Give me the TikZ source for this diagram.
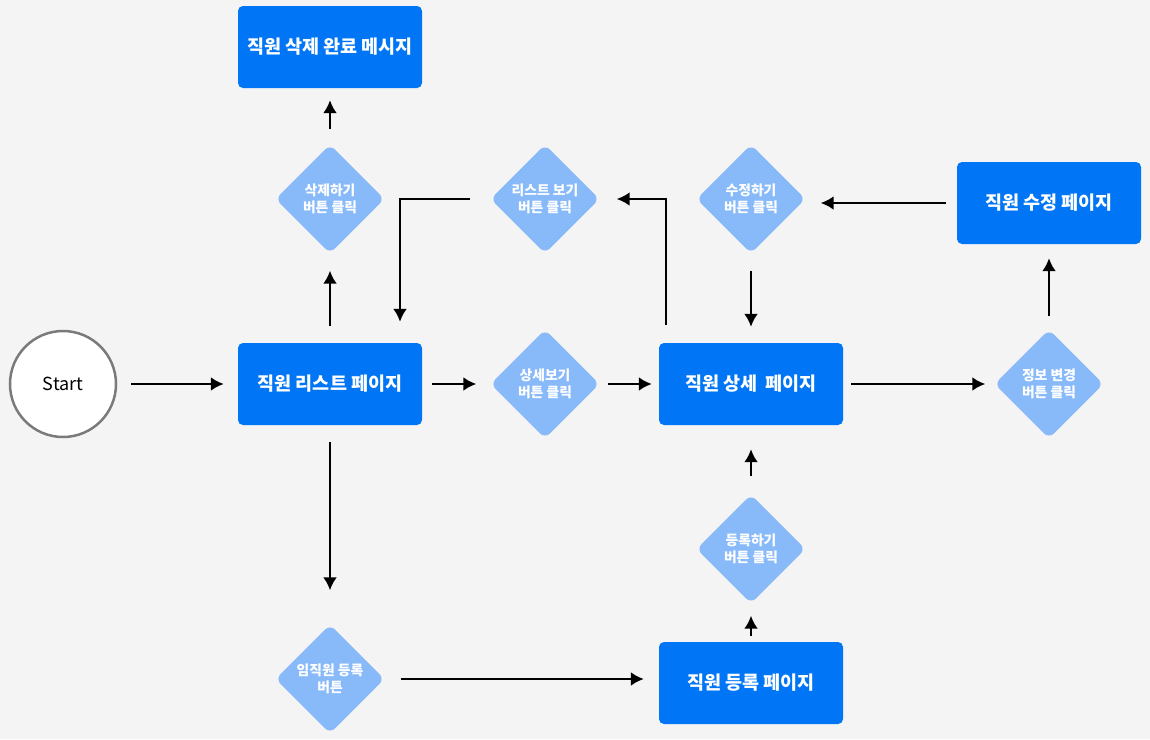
\documentclass[tikz,border=0pt]{standalone}
\usepackage{fontspec}
\setmainfont{Noto Sans CJK KR}
\usepackage{tikz}
\usetikzlibrary{shapes.geometric, arrows.meta, positioning}

\definecolor{pageblue}{RGB}{0,117,245}
\definecolor{btnblue}{RGB}{136,186,249}
\definecolor{bggray}{RGB}{244,244,244}
\definecolor{rimgray}{RGB}{122,122,122}

\begin{document}
\begin{tikzpicture}[
    node distance=150pt,
    >={Latex[length=13pt,width=14pt]},
    page/.style={fill=pageblue, rounded corners=5pt, minimum width=184pt, minimum height=82pt, text=white, font=\fontsize{18.5}{22}\selectfont\bfseries},
    btn/.style={diamond, fill=btnblue, rounded corners=7pt, minimum width=109pt, minimum height=109pt, inner sep=0pt, text=white, align=center, font=\fontsize{13.8}{17.5}\selectfont\bfseries},
    flow/.style={->, line width=2.6pt, shorten <=14pt, shorten >=14pt}
]
    \fill[bggray] (0,0) rectangle (1150pt,-739pt);

    % Node placement
    \node (start) [circle, draw=rimgray, line width=2.5pt, fill=white, minimum size=106pt, font=\fontsize{18}{20}\selectfont] at (63pt,-384pt) {Start};
    \node (list) [page, right of=start, node distance=267pt] {직원 리스트 페이지};
    \node (delbtn) [btn, above of=list, node distance=185pt] {삭제하기\\버튼 클릭};
    \node (delmsg) [page, above of=delbtn, node distance=152pt] {직원 삭제 완료 메시지};
    \node (viewbtn) [btn, right of=list, node distance=215pt] {상세보기\\버튼 클릭};
    \node (detail) [page, right of=viewbtn, node distance=206pt] {직원 상세\ \ 페이지};
    \node (listbtn) [btn, above of=viewbtn, node distance=185pt] {리스트 보기\\버튼 클릭};
    \node (editbtn) [btn, above of=detail, node distance=185pt] {수정하기\\버튼 클릭};
    \node (infobtn) [btn, right of=detail, node distance=298pt] {정보 변경\\버튼 클릭};
    \node (edit) [page, above of=infobtn, node distance=181pt] {직원 수정 페이지};
    \node (newbtn) [btn, below of=list, node distance=295pt] {임직원 등록\\버튼};
    \node (reg) [page, below of=detail, node distance=299pt] {직원 등록 페이지};
    \node (regbtn) [btn, above of=reg, node distance=134pt] {등록하기\\버튼 클릭};

    % Arrows
    \draw[flow] (start) -- (list);
    \draw[flow, shorten <=10pt] (list) -- (viewbtn);
    \draw[flow, shorten <=8pt, shorten >=7pt] (viewbtn) -- (detail);
    \draw[flow, shorten <=17pt, shorten >=17pt] (list) -- (delbtn);
    \draw[flow, shorten <=15pt, shorten >=12pt] (delbtn) -- (delmsg);
    \draw[flow, shorten <=17pt, shorten >=16pt] (editbtn) -- (detail);
    \draw[flow, shorten <=11pt, shorten >=15pt] (edit) -- (edit -| editbtn.east);
    \draw[flow, shorten <=8pt, shorten >=9pt] (detail) -- (infobtn);
    \draw[flow, shorten <=13pt, shorten >=14pt] (infobtn) -- (edit);
    \draw[flow, shorten <=17pt, shorten >=34pt] (list) -- (newbtn);
    \draw[flow, shorten <=16pt, shorten >=15pt] (newbtn) -- (newbtn -| reg.west);
    \draw[flow, shorten <=6pt, shorten >=12pt] (reg) -- (regbtn);
    \draw[flow, shorten <=18pt, shorten >=24pt] (regbtn) -- (detail);

    % Loops back
    \draw[flow, shorten <=20pt, shorten >=21pt] (listbtn) -| ([xshift=70pt]list.north);
    \draw[flow, shorten <=18pt, shorten >=17pt] ([xshift=-85pt]detail.north) |- (listbtn);

\end{tikzpicture}
\end{document}
